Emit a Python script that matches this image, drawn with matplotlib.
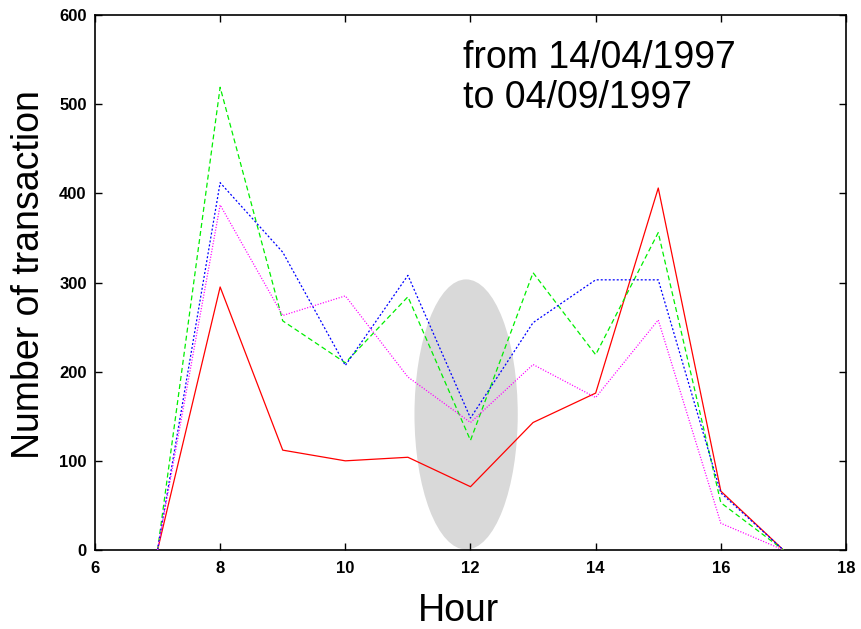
import matplotlib
matplotlib.use('Agg')
import matplotlib.pyplot as plt
from matplotlib.patches import Ellipse

plt.rcParams['font.family'] = ['Liberation Sans', 'DejaVu Sans']

hours = [7, 8, 9, 10, 11, 12, 13, 14, 15, 16, 17]
red_vals = [0, 295, 112, 100, 104, 71, 143, 176, 406, 66, 0]
green_vals = [0, 519, 257, 210, 284, 123, 311, 219, 356, 53, 0]
blue_vals = [0, 412, 334, 207, 308, 148, 255, 303, 303, 64, 0]
magenta_vals = [0, 387, 263, 285, 194, 143, 208, 171, 258, 30, 0]

x_ticks = [6, 8, 10, 12, 14, 16, 18]
y_ticks = [0, 100, 200, 300, 400, 500, 600]

fig = plt.figure(figsize=(8.61, 6.29), dpi=100)
ax = fig.add_axes([0.1103, 0.1256, 0.8723, 0.8505])

# grey ellipse around the midday dip
ax.add_patch(Ellipse((11.93, 152), 1.65, 303, facecolor='#d9d9d9', edgecolor='none', zorder=1))

lw = 0.9
ax.plot(hours, red_vals, color='#ff0000', lw=lw, zorder=3)
ax.plot(hours, green_vals, color='#00ee00', lw=lw, dashes=(4, 2.5), zorder=3)
ax.plot(hours, blue_vals, color='#0000ff', lw=lw, dashes=(1.6, 1.6), zorder=3)
ax.plot(hours, magenta_vals, color='#ff00ff', lw=lw, dashes=(0.9, 1.3), zorder=3)

ax.set_xlim(6, 18)
ax.set_ylim(0, 600)
ax.set_xticks(x_ticks)
ax.set_yticks(y_ticks)
ax.tick_params(direction='in', length=5, width=1, top=True, right=True,
               labelsize=12)
ax.tick_params(axis='x', pad=8)
ax.tick_params(axis='y', pad=6)
for lab in ax.get_xticklabels() + ax.get_yticklabels():
    lab.set_fontweight('bold')
for sp in ax.spines.values():
    sp.set_linewidth(1.2)

ax.text(0.49, 0.953, 'from 14/04/1997\nto 04/09/1997', transform=ax.transAxes,
        fontsize=27, va='top', ha='left', linespacing=1.15)

fig.text(458.5 / 861, 1 - 611 / 629, 'Hour', fontsize=27, ha='center', va='center')
fig.text(29 / 861, 1 - 275 / 629, 'Number of transaction', fontsize=27,
         rotation=90, ha='center', va='center')

fig.savefig('out.png', dpi=100)
